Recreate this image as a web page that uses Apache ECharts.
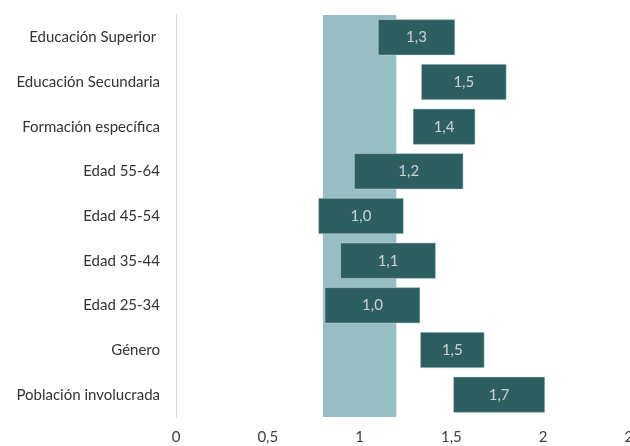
<!DOCTYPE html>
<html>
<head>
<meta charset="utf-8">
<script src="https://cdn.jsdelivr.net/npm/echarts@6/dist/echarts.min.js"></script>
<style>
  html, body { margin: 0; padding: 0; background: #fff; }
  #chart { width: 630px; height: 446px; }
</style>
</head>
<body>
<div id="chart"></div>
<script>
// categorías (de arriba hacia abajo)
const categories = [
  'Educación Superior ',
  'Educación Secundaria',
  'Formación específica',
  'Edad 55-64',
  'Edad 45-54',
  'Edad 35-44',
  'Edad 25-34',
  'Género',
  'Población involucrada'
];
// límites del intervalo y valor estimado
const lowValues = [1.10, 1.335, 1.29, 0.97, 0.775, 0.895, 0.81, 1.33, 1.51];
const highValues = [1.52, 1.80, 1.63, 1.565, 1.24, 1.415, 1.33, 1.68, 2.01];
const estimates = [1.3, 1.5, 1.4, 1.2, 1.0, 1.1, 1.0, 1.5, 1.7];
// banda de referencia
const bandRange = [0.8, 1.2];
const xTicks = [0, 0.5, 1, 1.5, 2, 2.5];

const fmt = v => String(v).replace('.', ',');

var chartDom = document.getElementById('chart');
var myChart = echarts.init(chartDom, null, { renderer: 'canvas' });

const font = 'Lato, "Open Sans", sans-serif';

var option = {
  animation: false,
  textStyle: { fontFamily: font },
  grid: { left: 176, right: -5, top: 15, bottom: 29, containLabel: false, outerBoundsMode: 'none' },
  xAxis: {
    type: 'value',
    min: xTicks[0],
    max: xTicks[xTicks.length - 1],
    interval: 0.5,
    axisLine: { show: false },
    axisTick: { show: false },
    splitLine: { show: false },
    axisLabel: {
      margin: 13,
      fontSize: 15,
      color: '#404040',
      fontFamily: font,
      formatter: v => fmt(v)
    }
  },
  yAxis: {
    type: 'category',
    data: categories,
    inverse: true,
    axisLine: { show: true, lineStyle: { color: '#d9d9d9', width: 1 } },
    axisTick: { show: false },
    axisLabel: { margin: 16, fontSize: 15, color: '#333', fontFamily: font }
  },
  series: [
    {
      name: 'base',
      type: 'bar',
      stack: 'ic',
      barWidth: 36,
      silent: true,
      itemStyle: { color: 'transparent' },
      data: lowValues
    },
    {
      name: 'intervalo',
      type: 'bar',
      stack: 'ic',
      barWidth: 36,
      z: 2,
      itemStyle: { color: '#2e5f60', borderColor: '#cfdfe0', borderWidth: 0.5 },
      data: highValues.map((h, i) => +(h - lowValues[i]).toFixed(3))
    },
    {
      name: 'banda',
      type: 'line',
      z: 3,
      data: [],
      markArea: {
        silent: true,
        itemStyle: { color: 'rgba(5, 99, 111, 0.42)' },
        data: [[{ xAxis: bandRange[0] }, { xAxis: bandRange[1] }]]
      }
    },
    {
      name: 'etiquetas',
      type: 'scatter',
      z: 5,
      symbolSize: 0,
      silent: true,
      label: {
        show: true,
        position: 'inside',
        color: '#eeeeee',
        fontSize: 15,
        fontFamily: font,
        formatter: p => fmt(estimates[p.dataIndex].toFixed(1))
      },
      data: categories.map((c, i) => [(lowValues[i] + highValues[i]) / 2, c])
    }
  ]
};

option && myChart.setOption(option);
</script>
</body>
</html>
